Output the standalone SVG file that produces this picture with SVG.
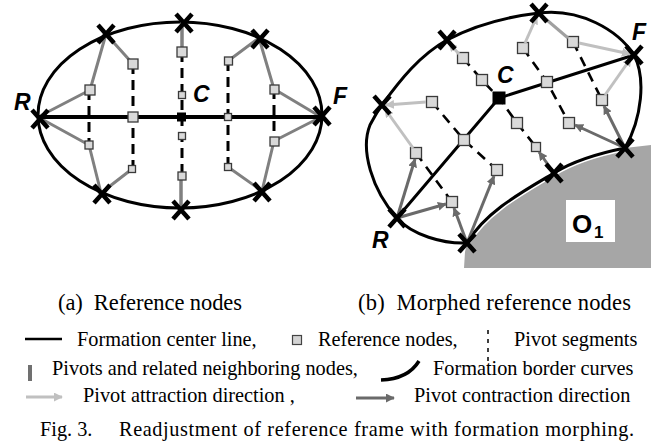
<svg xmlns="http://www.w3.org/2000/svg" width="656" height="444" viewBox="0 0 656 444">
<style>
.bd{fill:none;stroke:#000;stroke-width:3}
.dash{stroke:#000;stroke-width:3;stroke-dasharray:10 6;fill:none}
.dashb{stroke:#000;stroke-width:2.6;stroke-dasharray:10 7;fill:none}
.nb{stroke:#808080;stroke-width:3;fill:none;stroke-linejoin:round}
.att{stroke:#c0c0c0;stroke-width:3;fill:none;marker-end:url(#ahL)}
.con{stroke:#6a6a6a;stroke-width:3;fill:none;marker-end:url(#ahD)}
.node{fill:#d9d9d9;stroke:#3a3a3a;stroke-width:1.3}
.x{stroke:#000;stroke-width:4.5;fill:none}
.lbl{font-family:"Liberation Sans",Arial,sans-serif;font-weight:bold;font-style:italic;font-size:23px;fill:#000}
.cap{font-family:"Liberation Serif","Times New Roman",serif;font-size:20.3px;fill:#000}
.sub{font-family:"Liberation Serif","Times New Roman",serif;font-size:22.5px;fill:#000}
</style>
<defs>
<marker id="ahL" viewBox="0 0 10 10" refX="9" refY="5" markerWidth="3" markerHeight="3" orient="auto"><path d="M0,0 L10,5 L0,10 z" fill="#c0c0c0"/></marker>
<marker id="ahD" viewBox="0 0 10 10" refX="9" refY="5" markerWidth="3" markerHeight="3" orient="auto"><path d="M0,0 L10,5 L0,10 z" fill="#6a6a6a"/></marker>
<path id="xm" class="x" d="M-8,-9 L8,9 M8,-9 L-8,9"/>
</defs>

<!-- Panel (a) -->
<g id="panel-a">
<ellipse id="a-border" class="bd" cx="180" cy="115" rx="142" ry="93"/>
<g id="a-connectors">
<path class="dash" d="M89,90 V145 M133,64 V169 M182,52 V176 M228,61 V167 M274,89 V141"/>
<polyline class="nb" points="38,117 90,90 106,34 133,64"/>
<polyline class="nb" points="38,117 89,145 101,193 132,169"/>
<path class="nb" d="M182,22 V52 M181,209 V176" style="stroke-width:3.5"/>
<polyline class="nb" points="228,61 259,38 274,89 321,117"/>
<polyline class="nb" points="228,167 262,191 274,141 321,117"/>
<path d="M38,117 H321" stroke="#000" stroke-width="4" fill="none"/>
</g>
<g id="a-nodes">
<rect class="node" x="85" y="85" width="10" height="10"/>
<rect class="node" x="128" y="59" width="10" height="10"/>
<rect class="node" x="128" y="112" width="10" height="10"/>
<rect class="node" x="177" y="47" width="10" height="10"/>
<rect class="node" x="178.5" y="91.5" width="7" height="7"/>
<rect class="node" x="178.5" y="132.5" width="7" height="7"/>
<rect class="node" x="178" y="172" width="8" height="8"/>
<rect class="node" x="85" y="141" width="8" height="8"/>
<rect class="node" x="128.5" y="165.5" width="7" height="7"/>
<rect class="node" x="224.5" y="57" width="8" height="8"/>
<rect class="node" x="224.5" y="113.5" width="7" height="7"/>
<rect class="node" x="224.5" y="163.5" width="7" height="7"/>
<rect class="node" x="270" y="85" width="9" height="9"/>
<rect class="node" x="270" y="137" width="9" height="9"/>
<rect id="a-C" x="177" y="112.5" width="9" height="9" fill="#000"/>
</g>
<g id="a-pivots">
<use href="#xm" x="40" y="119"/>
<use href="#xm" x="322" y="116"/>
<use href="#xm" x="184" y="23"/>
<use href="#xm" x="181" y="210"/>
<use href="#xm" x="106" y="34"/>
<use href="#xm" x="102" y="194"/>
<use href="#xm" x="260" y="39"/>
<use href="#xm" x="262" y="192"/>
</g>
<text class="lbl" x="14" y="110">R</text>
<text class="lbl" x="193" y="102">C</text>
<text class="lbl" x="333" y="104">F</text>
</g>

<!-- Panel (b) -->
<g id="panel-b">
<g id="obstacle">
<path d="M464,268 L465,252 C466,248 466,245 467,243 C485,212 522,192 554,173 C575,160 600,153 625,148 L651,145 L651,268 Z" fill="#a6a6a6"/>
<path d="M467,243 C485,212 522,192 554,173 C575,160 600,153 625,148" fill="none" stroke="#fff" stroke-width="6"/>
<rect x="566" y="200" width="49" height="42" fill="#fff"/>
<text x="572" y="233" font-family="Liberation Sans, Arial, sans-serif" font-weight="bold" font-size="26">O</text>
<text x="594" y="238" font-family="Liberation Sans, Arial, sans-serif" font-weight="bold" font-size="17">1</text>
</g>
<path id="b-border" class="bd" d="M539,13 C580,8 618,30 634,55 C646,78 642,118 625,148 C600,153 575,160 554,173 C522,192 485,212 467,243 C443,244 412,235 397,218 C372,190 360,150 370,125 C375,116 378,110 382,105 C400,80 420,55 447,40 C475,25 505,17 539,13 Z"/>
<g id="b-connectors">
<polyline class="dashb" points="463,58 482,80 499,98 517,123 536,147"/>
<polyline class="dashb" points="432,102 464,140 497,170"/>
<polyline class="dashb" points="416,153 452,202"/>
<polyline class="dashb" points="523,48 547,82 569,123"/>
<polyline class="dashb" points="573,42 602,100"/>
<polyline points="397,218 499,98 634,55" fill="none" stroke="#000" stroke-width="3"/>
</g>
<g id="b-nodes">
<rect class="node" x="457.5" y="52.5" width="11" height="11"/>
<rect class="node" x="476.5" y="74.5" width="11" height="11"/>
<rect class="node" x="426.5" y="96.5" width="11" height="11"/>
<rect class="node" x="458.5" y="134.5" width="11" height="11"/>
<rect class="node" x="410.5" y="147.5" width="11" height="11"/>
<rect class="node" x="491.5" y="164.5" width="11" height="11"/>
<rect class="node" x="446.5" y="196.5" width="11" height="11"/>
<rect class="node" x="511.5" y="117.5" width="11" height="11"/>
<rect class="node" x="531.5" y="142.5" width="9" height="9"/>
<rect class="node" x="517.5" y="42.5" width="11" height="11"/>
<rect class="node" x="567.5" y="36.5" width="11" height="11"/>
<rect class="node" x="541.5" y="76.5" width="11" height="11"/>
<rect class="node" x="596.5" y="94.5" width="11" height="11"/>
<rect class="node" x="563.5" y="117.5" width="11" height="11"/>
<rect id="b-C" x="492.5" y="91.5" width="13" height="13" fill="#000"/>
</g>
<g id="b-arrows">
<line class="att" x1="459" y1="54" x2="449" y2="43"/>
<line class="att" x1="426" y1="102" x2="386" y2="105"/>
<line class="att" x1="413" y1="148" x2="385" y2="109"/>
<line class="att" x1="525" y1="43" x2="537" y2="16"/>
<line class="att" x1="579" y1="43" x2="630" y2="54"/>
<line class="att" x1="605" y1="95" x2="631" y2="58"/>
<line x1="541" y1="15" x2="568" y2="38" stroke="#a0a0a0" stroke-width="3"/>
<line class="con" x1="397" y1="218" x2="415" y2="159"/>
<line class="con" x1="397" y1="218" x2="446" y2="204"/>
<line class="con" x1="467" y1="243" x2="454" y2="208"/>
<line class="con" x1="467" y1="243" x2="494" y2="176"/>
<line class="con" x1="554" y1="173" x2="539" y2="152"/>
<line class="con" x1="625" y1="148" x2="575" y2="125"/>
<line class="con" x1="625" y1="148" x2="604" y2="106"/>
</g>
<g id="b-pivots">
<use href="#xm" x="539" y="13"/>
<use href="#xm" x="634" y="55"/>
<use href="#xm" x="625" y="148"/>
<use href="#xm" x="554" y="173"/>
<use href="#xm" x="467" y="243"/>
<use href="#xm" x="397" y="218"/>
<use href="#xm" x="382" y="105"/>
<use href="#xm" x="447" y="40"/>
</g>
<text class="lbl" x="497" y="83">C</text>
<text class="lbl" x="372" y="248">R</text>
<text class="lbl" x="632" y="40">F</text>
</g>

<!-- Captions and legend -->
<g id="captions">
<text class="sub" x="58" y="310" xml:space="preserve" textLength="184" lengthAdjust="spacing">(a)  Reference nodes</text>
<text class="sub" x="358" y="310" xml:space="preserve" textLength="273" lengthAdjust="spacing">(b)  Morphed reference nodes</text>
</g>
<g id="legend">
<line x1="25" y1="339" x2="62" y2="339" stroke="#000" stroke-width="2.5"/>
<text class="cap" x="77" y="346">Formation center line,</text>
<rect x="292.5" y="335.5" width="9" height="9" fill="#d4d4d4" stroke="#444" stroke-width="1.2"/>
<text class="cap" x="318" y="346">Reference nodes,</text>
<line x1="488" y1="330" x2="488" y2="362" stroke="#000" stroke-width="1.5" stroke-dasharray="4 5"/>
<text class="cap" x="514" y="346">Pivot segments</text>
<rect x="28" y="365" width="4" height="16" fill="#707070"/>
<text class="cap" x="52" y="375">Pivots and related neighboring nodes,</text>
<path d="M381,380 Q408,379 419,361" fill="none" stroke="#000" stroke-width="3.5"/>
<text class="cap" x="433" y="375">Formation border curves</text>
<line x1="26" y1="397" x2="62" y2="397" stroke="#c0c0c0" stroke-width="3" marker-end="url(#ahL)"/>
<text class="cap" x="83" y="402">Pivot attraction direction ,</text>
<line x1="356" y1="398" x2="394" y2="398" stroke="#6a6a6a" stroke-width="3" marker-end="url(#ahD)"/>
<text class="cap" x="414" y="402">Pivot contraction direction</text>
<text class="cap" x="40" y="436">Fig. 3.</text>
<text class="cap" x="119" y="436" textLength="515" lengthAdjust="spacing">Readjustment of reference frame with formation morphing.</text>
</g>
</svg>
